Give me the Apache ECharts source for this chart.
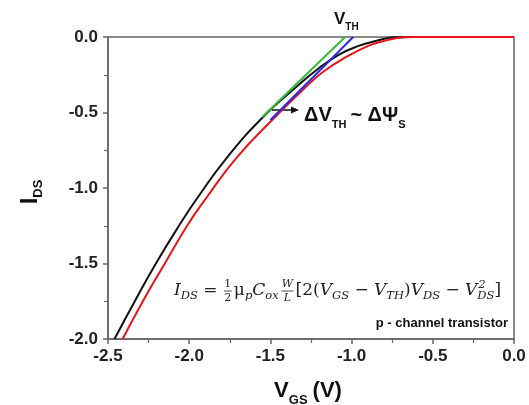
<!DOCTYPE html>
<html><head><meta charset="utf-8">
<script src="https://cdn.jsdelivr.net/npm/echarts@6/dist/echarts.min.js"></script>
<style>html,body{margin:0;padding:0;background:#fff}#c{width:529px;height:405px}</style>
</head><body><div id="c"></div>
<script>
// ---- data ----
const blackV = [-2.46, -2.33, -2.205, -2.06, -1.95, -1.765, -1.545, -1.35, -1.20, -1.08, -0.97, -0.83, -0.73, -0.6, 0];
const blackI = [-2.0, -1.74, -1.5, -1.245, -1.066, -0.795, -0.53, -0.34, -0.205, -0.118, -0.064, -0.02, -0.002, 0, 0];
const redV = [-2.41, -2.28, -2.15, -2.01, -1.895, -1.705, -1.48, -1.30, -1.175, -1.03, -0.89, -0.805, -0.72, -0.64, 0];
const redI = [-2.0, -1.74, -1.5, -1.245, -1.066, -0.795, -0.54, -0.35, -0.23, -0.13, -0.055, -0.028, -0.007, 0, 0];
const blueV = [-1.50, -0.99];
const blueI = [-0.55, 0];
const greenV = [-1.55, -1.04];
const greenI = [-0.53, 0];
const xTicks = [-2.5, -2.0, -1.5, -1.0, -0.5, 0.0];
const yTicks = [-2.0, -1.5, -1.0, -0.5, 0.0];

const zip = (a, b) => a.map((v, i) => [v, b[i]]);

// ---- text layout helper (measured runs) ----
const mctx = document.createElement('canvas').getContext('2d');
function fontStr(r) { return `${r.style || 'normal'} ${r.weight || 'normal'} ${r.size}px ${r.family}`; }
function measure(r) { mctx.font = fontStr(r); return mctx.measureText(r.text).width; }
function runs(list, x0, base, align, color) {
  const items = []; let x = 0;
  list.forEach(r => {
    if (r.frac) {
      const num = Object.assign({}, r, { text: r.frac[0] }), den = Object.assign({}, r, { text: r.frac[1] });
      const w = Math.max(measure(num), measure(den)) + 3;
      items.push(Object.assign(num, { x: x + w / 2, dy: r.numDy, center: true }));
      items.push(Object.assign(den, { x: x + w / 2, dy: r.denDy, center: true }));
      items.push({ bar: true, x1: x + 1, x2: x + w - 1, dy: r.barDy });
      x += w + (r.gap || 0);
    } else if (r.subsup) {
      const sb = Object.assign({}, r, { text: r.subsup[0], dy: r.subDy });
      const sp = Object.assign({}, r, { text: r.subsup[1], dy: r.supDy });
      const w = Math.max(measure(sb), measure(sp));
      items.push(Object.assign(sb, { x: x }));
      items.push(Object.assign(sp, { x: x + 1 }));
      x += w + (r.gap || 0);
    } else {
      const w = measure(r);
      items.push(Object.assign({}, r, { x: x }));
      x += w + (r.gap || 0);
    }
  });
  const off = align === 'center' ? x0 - x / 2 : align === 'right' ? x0 - x : x0;
  return items.map(it => it.bar ? {
    type: 'line', shape: { x1: off + it.x1, y1: base + it.dy, x2: off + it.x2, y2: base + it.dy },
    style: { stroke: color, lineWidth: 0.8 }
  } : {
    type: 'text', x: off + it.x, y: base + (it.dy || 0) - 0.31 * it.size,
    style: { text: it.text, font: fontStr(it), fill: color, textAlign: it.center ? 'center' : 'left', textVerticalAlign: 'middle' }
  });
}

const SANS = '"Liberation Sans", Arial, sans-serif';
const SERIF = '"DejaVu Serif", "Liberation Serif", serif';
const B = (text, size, dy, gap) => ({ text, size, dy: dy || 0, gap: gap || 0, weight: 'bold', family: SANS });

// formula
const M = 17, S = 11.5;
const it = (text, size, dy) => ({ text, size, dy: dy || 0, style: 'italic', family: SERIF });
const up = (text, size, dy) => ({ text, size, dy: dy || 0, family: SERIF });
const fr = (a, b, ital) => ({ frac: [a, b], size: 11, style: ital ? 'italic' : 'normal', family: SERIF, numDy: -8, denDy: 6, barDy: -5, gap: 1 });
const formula = [
  it('I', M), it('DS', S, 4), up(' = ', M), fr('1', '2'), up('μ', M), it('p', S, 4), it('C', M), it('ox', S, 4), up(' ', 5),
  fr('W', 'L', true), up('[2(', M), it('V', M), it('GS', S, 4), up(' − ', M), it('V', M), it('TH', S, 4), up(')', M),
  it('V', M), it('DS', S, 4), up(' − ', M), it('V', M),
  { subsup: ['DS', '2'], size: S, style: 'italic', family: SERIF, subDy: 4, supDy: -7 }, up(']', M)
];

const graphics = [].concat(
  runs([B('V', 17), B('TH', 10, 5)], 334, 25, 'left', '#111'),
  runs([B('ΔV', 20), B('TH', 11, 6, 4), B('~ ΔΨ', 20), B('S', 11, 6)], 304, 122, 'left', '#111'),
  runs(formula, 174, 296, 'left', '#222'),
  runs([B('p - channel transistor', 13)], 508, 327, 'right', '#111'),
  runs([B('V', 22), B('GS', 13, 6, 5), B('(V)', 22)], 308, 398, 'center', '#111'),
  [{
    type: 'group', x: 38, y: 192, rotation: Math.PI / 2,
    children: runs([B('I', 24), B('DS', 13, 4)], 0, 0, 'center', '#111')
  }],
  [
    { type: 'line', shape: { x1: 272, y1: 110, x2: 292, y2: 110 }, style: { stroke: '#111', lineWidth: 1.5 } },
    { type: 'polygon', shape: { points: [[291, 106.5], [299, 110], [291, 113.5]] }, style: { fill: '#111' } }
  ]
);

const axisCol = '#666';
const chart = echarts.init(document.getElementById('c'), null, { renderer: 'canvas' });
chart.setOption({
  backgroundColor: '#fff',
  animation: false,
  grid: { left: 108, right: 15, top: 37, bottom: 66, show: true, borderColor: axisCol, borderWidth: 1.5, backgroundColor: 'transparent' },
  xAxis: {
    type: 'value', min: xTicks[0], max: xTicks[xTicks.length - 1], interval: 0.5,
    axisLine: { show: true, onZero: false, lineStyle: { color: axisCol, width: 1.5 } },
    axisTick: { show: true, length: 5, lineStyle: { color: axisCol, width: 1.5 } },
    minorTick: { show: true, splitNumber: 2, length: 4, lineStyle: { color: axisCol, width: 1.2 } },
    splitLine: { show: false },
    axisLabel: { margin: 9, color: '#222', fontWeight: 'bold', fontSize: 17, fontFamily: SANS, formatter: v => v.toFixed(1) }
  },
  yAxis: {
    type: 'value', min: yTicks[0], max: yTicks[yTicks.length - 1], interval: 0.5,
    axisLine: { show: true, onZero: false, lineStyle: { color: axisCol, width: 1.5 } },
    axisTick: { show: true, length: 5, lineStyle: { color: axisCol, width: 1.5 } },
    minorTick: { show: true, splitNumber: 2, length: 4, lineStyle: { color: axisCol, width: 1.2 } },
    splitLine: { show: false },
    axisLabel: { margin: 10, color: '#222', fontWeight: 'bold', fontSize: 17, fontFamily: SANS, formatter: v => v.toFixed(1) }
  },
  series: [
    { type: 'line', data: zip(blackV, blackI), smooth: true, showSymbol: false, lineStyle: { color: '#111', width: 2 }, z: 2 },
    { type: 'line', data: zip(redV, redI), smooth: true, showSymbol: false, lineStyle: { color: '#e8141a', width: 2 }, z: 3 },
    { type: 'line', data: zip(blueV, blueI), showSymbol: false, lineStyle: { color: '#2a2ae6', width: 2 }, z: 4 },
    { type: 'line', data: zip(greenV, greenI), showSymbol: false, lineStyle: { color: '#3dbb3d', width: 2.2 }, z: 5 }
  ],
  graphic: graphics
});
</script></body></html>
